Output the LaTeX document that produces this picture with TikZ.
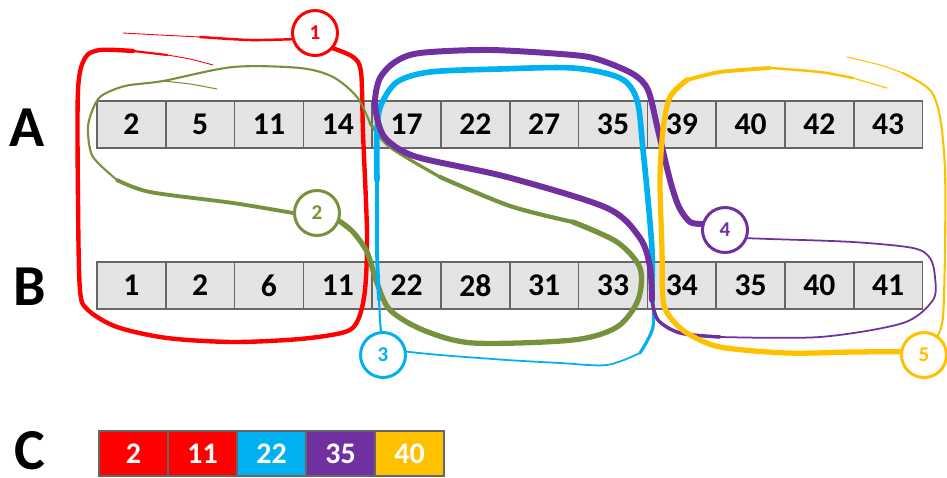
\documentclass[tikz,border=0pt]{standalone}
\usepackage{fontspec}
\setmainfont{Carlito}
\usepackage{tikz}
\usetikzlibrary{positioning,calc}

\definecolor{sred}{RGB}{255,0,0}
\definecolor{sgreen}{RGB}{118,146,60}
\definecolor{sblue}{RGB}{0,176,240}
\definecolor{spurple}{RGB}{112,48,160}
\definecolor{syellow}{RGB}{255,192,0}
\definecolor{cellgray}{RGB}{228,228,228}

\pgfdeclarelayer{front}
\pgfsetlayers{main,front}

\begin{document}
\begin{tikzpicture}[
  x=0.02cm, y=-0.02cm,
  acell/.style={draw=black!60, line width=0.8pt, fill=cellgray, minimum width=1.376cm, minimum height=0.94cm, inner sep=0pt, font=\bfseries\fontsize{18}{20}\selectfont},
  ccell/.style={draw=black!60, line width=0.6pt, text=white, minimum width=1.38cm, minimum height=0.9cm, inner sep=0pt, font=\bfseries\fontsize{17}{19}\selectfont},
  rowlbl/.style={font=\bfseries\fontsize{33}{36}\selectfont, inner sep=0pt},
  tagc/.style={circle, draw=#1, text=#1, fill=white, line width=1.7pt, minimum size=0.9cm, inner sep=0pt, font=\bfseries\fontsize{12}{14}\selectfont},
  band/.style={line cap=round, line join=round},
]
  \useasboundingbox (0,0) rectangle (947,477);

  % Row labels
  \node[rowlbl] (lA) at (27,128) {A};
  \node[rowlbl] (lB) at (30,287) {B};
  \node[rowlbl] (lC) at (30,451) {C};

  % Sorted arrays A and B
  \foreach \v [count=\i] in {2,5,11,14,17,22,27,35,39,40,42,43}
    \node[acell] (a\i) at ({97+68.8*(\i-0.5)},124.5) {\v};
  \foreach \v [count=\i] in {1,2,6,11,22,28,31,33,34,35,40,41}
    \node[acell] (b\i) at ({97+68.8*(\i-0.5)},285.5) {\v};

  % Result C
  \foreach \v/\c [count=\i] in {2/sred,11/sred,22/sblue,35/spurple,40/syellow}
    \node[ccell, fill=\c] (c\i) at ({99+69*(\i-0.5)},453.5) {\v};

  % Step tags (kept above the bands)
  \begin{pgfonlayer}{front}
    \node[tagc=sred]    (t1) at (315,33)  {1};
    \node[tagc=sgreen]  (t2) at (317,213) {2};
    \node[tagc=sblue]   (t3) at (383,355) {3};
    \node[tagc=spurple] (t4) at (725,230) {4};
    \node[tagc=syellow] (t5) at (924,355) {5};
  \end{pgfonlayer}

  % Loose ends of the bands
  \coordinate (rt1) at (123,33);
  \coordinate (rt2) at (213,65);
  \coordinate (gt)  at (217,89);
  \coordinate (yt1) at (887,88);
  \coordinate (yt2) at (847,57);

  % Band 1
  \draw[band, sred, line width=0.5pt] plot[smooth] coordinates {(rt1) (160,35) (200,37)};
  \draw[band, sred, line width=1.4pt] plot[smooth] coordinates {(200,37) (250,40) (t1.195)};
  \draw[band, sred, line width=2.5pt] plot[smooth] coordinates {(t1.320) (353,57) (361,72) (363,133) (367,233) (365,290) (358,320) (345,332) (300,339) (233,342) (167,338) (117,327) (88,310) (80,290) (78,200) (78,90) (85,58) (100,50) (133,51)};
  \draw[band, sred, line width=1.2pt] plot[smooth] coordinates {(133,51) (150,53) (167,55)};
  \draw[band, sred, line width=0.5pt] plot[smooth] coordinates {(167,55) (190,59) (rt2)};

  % Band 2
  \draw[band, sgreen, line width=3pt] plot[smooth] coordinates {(t2.340) (353,232) (367,252) (377,283) (390,310) (423,330) (473,343) (573,340) (617,327) (638,300) (640,268) (617,242) (573,222)};
  \draw[band, sgreen, line width=2.4pt] plot[smooth] coordinates {(573,222) (510,206) (440,177)};
  \draw[band, sgreen, line width=1.8pt] plot[smooth] coordinates {(440,177) (390,147) (370,123)};
  \draw[band, sgreen, line width=1.2pt] plot[smooth] coordinates {(370,123) (357,97) (333,77) (300,68) (233,67) (163,81) (125,86) (100,97) (90,117) (88,133) (93,157) (117,180)};
  \draw[band, sgreen, line width=2.2pt] plot[smooth] coordinates {(117,180) (150,192) (233,203) (t2.180)};
  \draw[band, sgreen, line width=0.6pt] plot[smooth] coordinates {(163,81) (190,84) (gt)};

  % Band 3
  \draw[band, sblue, line width=1.2pt] plot[smooth] coordinates {(t3.95) (380,320) (379,300)};
  \draw[band, sblue, line width=2.2pt] plot[smooth] coordinates {(379,300) (377,250) (377,180)};
  \draw[band, sblue, line width=3.2pt] plot[smooth] coordinates {(377,180) (377,130) (381,105) (397,82) (430,72) (500,69) (573,68) (620,78) (637,100) (643,150) (648,200) (652,250) (652,290)};
  \draw[band, sblue, line width=1.8pt] plot[smooth] coordinates {(652,290) (653,327) (640,353)};
  \draw[band, sblue, line width=1pt] plot[smooth] coordinates {(640,353) (607,365) (560,363) (507,360) (440,355) (t3.8)};

  % Band 4
  \draw[band, spurple, line width=3.4pt] plot[smooth] coordinates {(t4.165) (690,222) (679,207) (670,180) (658,130) (648,90) (633,74) (600,60) (573,55) (490,50) (420,53) (395,62) (380,78) (375,100) (378,122) (387,140) (417,157) (507,177) (607,208) (640,238) (650,267) (652,300)};
  \draw[band, spurple, line width=2pt] plot[smooth] coordinates {(652,300) (658,320) (680,333) (720,337)};
  \draw[band, spurple, line width=1pt] plot[smooth] coordinates {(720,337) (820,337) (903,323) (933,300) (935,277) (930,258) (913,248) (853,242) (770,239) (t4.340)};

  % Band 5
  \draw[band, syellow, line width=3pt] plot[smooth] coordinates {(t5.172) (853,352) (787,353) (720,347) (687,333) (670,317) (663,300) (662,250) (660,180) (663,130) (670,97) (687,80)};
  \draw[band, syellow, line width=2.2pt] plot[smooth] coordinates {(687,80) (720,72) (770,68)};
  \draw[band, syellow, line width=1.4pt] plot[smooth] coordinates {(770,68) (820,72) (853,78)};
  \draw[band, syellow, line width=0.7pt] plot[smooth] coordinates {(853,78) (870,83) (yt1)};
  \draw[band, syellow, line width=0.6pt] plot[smooth] coordinates {(yt2) (880,65) (903,73)};
  \draw[band, syellow, line width=1.2pt] plot[smooth] coordinates {(903,73) (930,90) (940,117) (945,170) (945,250) (943,317) (t5.55)};
\end{tikzpicture}
\end{document}
